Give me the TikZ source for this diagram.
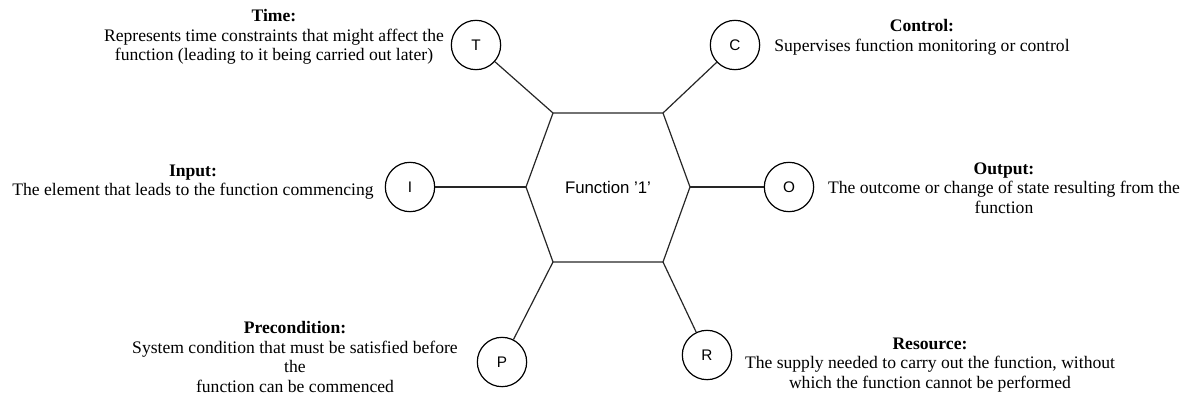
\documentclass[tikz,border=0pt]{standalone}
\usepackage{fontspec}
\setmainfont{Liberation Serif}
\setsansfont{Liberation Sans}
\begin{document}
\begin{tikzpicture}[x=0.75pt,y=-0.75pt,
  port/.style={circle,draw,line width=0.9pt,minimum size=37pt,inner sep=0pt,font=\sffamily\fontsize{11.5}{13}\selectfont},
  desc/.style={align=center,inner sep=0pt,font=\fontsize{13.2}{14.7}\selectfont},
  link/.style={draw,line width=0.9pt,color=black!85}]
\useasboundingbox (0,0) rectangle (1189,400);
% hexagon
\coordinate (htl) at (553,113);
\coordinate (htr) at (663,113);
\coordinate (hr) at (690,187);
\coordinate (hbr) at (663,262);
\coordinate (hbl) at (553,262);
\coordinate (hl) at (526,187);
\draw[line width=0.9pt,color=black!85] (htl) -- (htr) -- (hr) -- (hbr) -- (hbl) -- (hl) -- cycle;
\node[inner sep=0pt,font=\sffamily\fontsize{12.6}{14}\selectfont] (fn) at (608,187) {Function '1'};
% ports
\node[port] (T) at (476,45) {T};
\node[port] (C) at (735,45) {C};
\node[port] (I) at (410,187) {I};
\node[port] (O) at (789,187) {O};
\node[port] (P) at (502,362) {P};
\node[port] (R) at (707,355) {R};
% connectors
\path[link] (T) -- (htl);
\path[link] (C) -- (htr);
\path[link] (I) -- (hl);
\path[link] (O) -- (hr);
\path[link] (P) -- (hbl);
\path[link] (R) -- (hbr);
% descriptions
\node[desc] (tT) at (274,37) {\textbf{Time:}\\Represents time constraints that might affect the\\function (leading to it being carried out later)};
\node[desc] (tC) at (922,37) {\textbf{Control:}\\Supervises function monitoring or control};
\node[desc] (tI) at (193,182) {\textbf{Input:}\\The element that leads to the function commencing};
\node[desc] (tO) at (1004,188) {\textbf{Output:}\\The outcome or change of state resulting from the\\function};
\node[desc] (tP) at (295,357) {\textbf{Precondition:}\\System condition that must be satisfied before\\the\\function can be commenced};
\node[desc] (tR) at (930,365) {\textbf{Resource:}\\The supply needed to carry out the function, without\\which the function cannot be performed};
\end{tikzpicture}
\end{document}
